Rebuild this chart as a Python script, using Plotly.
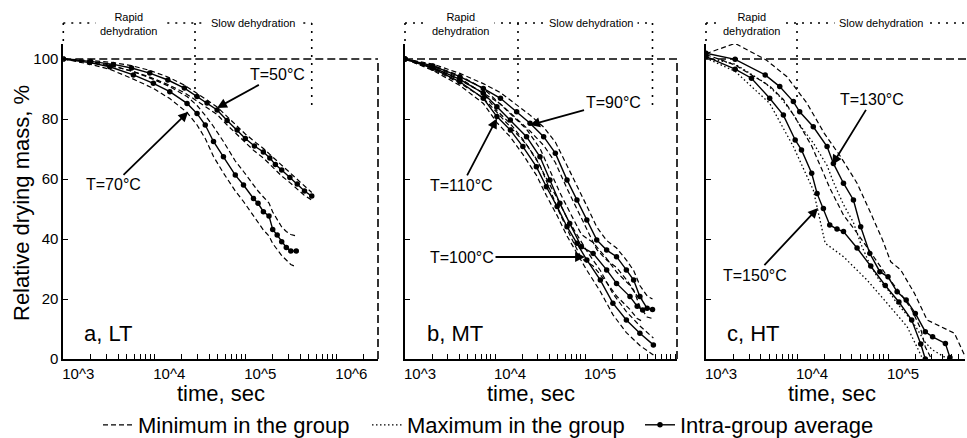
import math
import plotly.graph_objects as go

# ---------------- measurements: relative drying mass (%) vs time (s) ----------------
# Panel a, LT
t_50 = [1000, 2000, 3550, 5620, 8910, 14100, 21400, 29500, 38000, 49000, 63100, 81300,
        100000, 125900, 158000, 186000, 214000, 251000, 309000, 372000, 447000, 537000]
avg_50 = [100, 99.2, 98.2, 97.0, 95.3, 93.0, 90.3, 87.5, 85.3, 83.0, 79.5, 76.3,
          73.5, 71.0, 69.0, 67.0, 64.8, 63.0, 60.5, 58.3, 56.0, 54.3]
hi_50 = [100, 99.5, 98.8, 97.8, 96.2, 94.0, 91.3, 88.6, 86.3, 84.0, 80.8, 77.5,
         75.0, 72.5, 70.2, 68.2, 66.5, 64.5, 62.0, 59.8, 57.5, 55.5]
lo_50 = [100, 98.8, 97.5, 96.0, 94.0, 91.5, 88.8, 86.0, 83.8, 81.5, 78.0, 74.8,
         72.0, 69.3, 67.0, 65.0, 63.0, 61.0, 58.8, 56.7, 54.5, 53.0]

t_70 = [1000, 1950, 3240, 5890, 9770, 14800, 22900, 29500, 36300, 44700, 57500, 77600,
        95500, 123000, 138000, 158000, 182000, 200000, 224000, 251000, 282000, 316000, 363000]
avg_70 = [100, 98.8, 97.4, 94.7, 91.9, 89.1, 85.2, 81.8, 78.0, 72.5, 67.4, 61.3,
          58.0, 53.5, 51.9, 49.1, 47.7, 43.2, 41.3, 39.1, 37.2, 36.0, 36.0]
hi_70 = [100, 99.2, 98.0, 95.8, 93.2, 90.8, 87.5, 84.5, 81.2, 77.5, 72.5, 66.0,
         62.5, 58.0, 56.0, 54.0, 52.0, 49.0, 46.5, 44.0, 42.5, 41.5, 41.0]
lo_70 = [100, 98.3, 96.6, 93.3, 90.2, 86.8, 82.2, 78.0, 73.5, 67.5, 62.0, 56.0,
         52.5, 47.5, 45.5, 43.0, 41.0, 38.5, 36.5, 34.5, 33.0, 31.5, 30.7]

# Panel b, MT
t_90 = [1000, 2040, 4070, 7410, 11500, 17400, 24500, 34700, 46800, 63100, 81300, 104700,
        134900, 174000, 224000, 288000, 347000, 407000, 490000, 562000]
avg_90 = [100, 97.7, 94.1, 90.2, 86.9, 82.4, 78.6, 74.1, 68.6, 59.7, 53.0, 46.3,
          39.7, 36.3, 34.1, 29.7, 26.3, 20.8, 16.9, 16.5]
hi_90 = [100, 98.3, 95.2, 91.8, 88.8, 84.8, 81.3, 77.3, 72.3, 64.5, 58.0, 51.0,
         44.0, 39.5, 37.0, 33.0, 29.5, 24.5, 21.0, 20.0]
lo_90 = [100, 97.0, 93.0, 88.7, 85.0, 80.2, 76.0, 71.2, 65.5, 56.8, 50.0, 43.0,
         36.5, 33.0, 30.5, 26.5, 23.0, 17.5, 14.0, 13.5]

t_100 = [1000, 2040, 4070, 7410, 10500, 14800, 22400, 31600, 40700, 52500, 67600, 91200,
         123000, 174000, 224000, 316000, 380000, 437000]
avg_100 = [100, 97.2, 93.2, 88.6, 84.1, 79.7, 74.1, 67.4, 59.7, 51.9, 45.2, 37.4,
           35.2, 29.7, 25.2, 20.8, 17.6, 16.3]
hi_100 = [100, 97.9, 94.4, 90.2, 86.0, 81.8, 76.6, 70.2, 63.0, 55.5, 49.0, 41.5,
          38.8, 33.5, 29.0, 24.5, 21.0, 20.0]
lo_100 = [100, 96.5, 92.0, 87.0, 82.2, 77.5, 71.5, 64.5, 56.5, 48.5, 41.5, 33.5,
          31.0, 25.5, 21.0, 16.5, 13.5, 12.5]

t_110 = [1000, 2040, 4070, 7410, 10500, 14800, 20400, 28800, 37200, 49000, 63100, 81300,
         104700, 148000, 204000, 288000, 407000, 575000]
avg_110 = [100, 96.9, 92.4, 86.9, 80.8, 76.3, 70.8, 64.1, 57.4, 50.8, 44.1, 38.6,
           33.0, 26.3, 18.6, 13.0, 8.6, 4.7]
hi_110 = [100, 97.6, 93.6, 88.5, 82.8, 78.4, 73.2, 66.7, 60.2, 53.6, 47.0, 41.5,
          36.0, 29.5, 21.8, 15.8, 11.0, 7.0]
lo_110 = [100, 96.2, 91.2, 85.2, 78.8, 74.0, 68.2, 61.3, 54.5, 47.8, 41.0, 35.4,
          29.6, 22.5, 14.8, 8.8, 4.5, 1.3]

# Panel c, HT
t_130 = [1000, 2090, 4470, 6460, 9120, 10700, 15100, 21400, 25100, 32400, 41700, 50100,
         63100, 81300, 100000, 125900, 158500, 199500, 257000, 309000, 427000, 479000]
avg_130 = [101.9, 99.9, 94.7, 90.8, 85.8, 82.4, 77.4, 70.8, 65.2, 58.6, 53.0, 44.1,
           35.2, 29.1, 27.4, 22.4, 19.7, 15.2, 9.1, 7.4, 5.2, 0.5]
lo_130 = [100.5, 98.3, 92.0, 87.5, 81.5, 78.0, 72.0, 64.5, 59.0, 51.5, 45.5, 38.5,
          31.5, 26.0, 23.0, 18.5, 15.0, 11.0, 5.5, 3.0, 0.5, 0.0]
t_130_hi = [1000, 2090, 4570, 7760, 12900, 19950, 30200, 45700, 64600, 87100, 107200,
            138000, 195000, 269000, 380000, 537000, 724000]
hi_130 = [101.8, 105.2, 99.7, 94.1, 85.2, 75.2, 67.4, 58.6, 48.6, 39.7, 32.4,
          29.7, 21.9, 13.0, 10.8, 8.6, 0.0]

t_150 = [1000, 2090, 3160, 5010, 7080, 9550, 11200, 14500, 16600, 19500, 22900, 27500,
         32400, 45700, 64600, 93300, 131800, 182000, 229000, 257000]
avg_150 = [100.8, 96.6, 93.6, 86.9, 81.3, 73.0, 69.7, 61.9, 55.2, 50.2, 44.7, 43.3,
           42.5, 37.0, 31.0, 24.5, 19.0, 13.0, 5.0, 0.0]
t_150_lo = [1000, 2090, 5010, 9120, 15100, 20400, 32400, 58900, 97700, 162000, 234000]
lo_150 = [100.3, 95.9, 85.2, 70.8, 56.3, 38.6, 34.1, 26.3, 18.6, 10.8, 0.8]
t_150_hi = [1000, 2090, 5010, 7080, 9550, 14500, 19500, 22900, 32400, 45700, 64600,
            93300, 131800, 182000, 229000, 257000, 300000]
hi_150 = [101.5, 98.0, 91.0, 86.5, 80.5, 71.0, 62.0, 57.0, 48.0, 42.0, 35.5,
          28.5, 22.5, 16.5, 10.0, 4.0, 0.0]

# phase boundaries (s): end of rapid dehydration, end of the slow-phase bracket
phase_split = {"a": 28000, "b": 18000, "c": 10000}
phase_end = {"a": t_50[-1], "b": t_90[-1], "c": None}

# ---------------- layout geometry ----------------
W, H = 967, 438
FONT = "Liberation Sans, Arial, sans-serif"
PANEL_PX = {"a": (63.3, 378.0), "b": (405.0, 677.0), "c": (706.0, 965.0)}
Y_TOP, Y_BOT = 44.0, 359.0
XRANGE = {"a": [3, 6.458], "b": [3, 6.022], "c": [3, 5.846]}
YMAX = 105
AX = {"a": ("x", "y", "xaxis", "yaxis"), "b": ("x2", "y2", "xaxis2", "yaxis2"),
      "c": ("x3", "y3", "xaxis3", "yaxis3")}
LEGEND_X = {"min": 98, "max": 367, "avg": 640}   # left edge of each legend entry, px
LEGEND_Y = 425

dom_y = [1 - Y_BOT / H, 1 - Y_TOP / H]


def xfrac(panel, t):
    lo, hi = XRANGE[panel]
    return (math.log10(t) - lo) / (hi - lo)


def ypaper(v):
    return dom_y[0] + v / YMAX * (dom_y[1] - dom_y[0])


DASH = "5px,3px"
DOT = "1.5px,2.5px"

fig = go.Figure()

legend_done = set()
LEGEND_ID = {"min": "legend", "max": "legend2", "avg": "legend3"}


def add_line(panel, t, v, kind):
    xa, ya = AX[panel][0], AX[panel][1]
    if kind == "avg":
        name, group = "Intra-group average", "avg"
        line = dict(color="black", width=1.4)
        mode = "lines+markers"
        marker = dict(size=5.5, color="black")
    elif kind == "dash":
        name, group = "Minimum in the group", "min"
        line = dict(color="black", width=1.2, dash=DASH)
        mode, marker = "lines", None
    else:
        name, group = "Maximum in the group", "max"
        line = dict(color="black", width=1.3, dash=DOT)
        mode, marker = "lines", None
    show = group not in legend_done
    legend_done.add(group)
    fig.add_trace(go.Scatter(x=t, y=v, mode=mode, line=line, marker=marker,
                             name=name, legendgroup=group, showlegend=show,
                             legend=LEGEND_ID[group], xaxis=xa, yaxis=ya,
                             hoverinfo="skip"))


# panel a
add_line("a", t_50, hi_50, "dash")
add_line("a", t_50, lo_50, "dash")
add_line("a", t_70, hi_70, "dash")
add_line("a", t_70, lo_70, "dash")
add_line("a", t_50, avg_50, "avg")
add_line("a", t_70, avg_70, "avg")
# panel b
for t, a, h, l in [(t_90, avg_90, hi_90, lo_90), (t_100, avg_100, hi_100, lo_100),
                   (t_110, avg_110, hi_110, lo_110)]:
    add_line("b", t, h, "dash")
    add_line("b", t, l, "dash")
for t, a in [(t_90, avg_90), (t_100, avg_100), (t_110, avg_110)]:
    add_line("b", t, a, "avg")
# panel c
add_line("c", t_150_lo, lo_150, "dot")
add_line("c", t_150_hi, hi_150, "dash")
add_line("c", t_130, lo_130, "dot")
add_line("c", t_130_hi, hi_130, "dash")
add_line("c", t_150, avg_150, "avg")
add_line("c", t_130, avg_130, "avg")

# ---------------- axes ----------------
layout_axes = {}
for p in "abc":
    xa, ya, xkey, ykey = AX[p]
    lo, hi = XRANGE[p]
    vals, text = [], []
    for d in range(3, 7):
        for m in range(1, 10):
            val = m * 10 ** d
            if math.log10(val) <= hi + 1e-9:
                vals.append(val)
                # decade labels only where there is room for them inside the panel
                text.append(f"10^{d}" if (m == 1 and d < hi - 0.15) else "")
    l, r = PANEL_PX[p]
    layout_axes[xkey] = dict(
        type="log", range=[lo, hi], domain=[l / W, r / W], anchor=ya,
        showline=True, linecolor="black", linewidth=1.8, mirror=False,
        ticks="inside", ticklen=5, tickwidth=1.2, tickcolor="black",
        tickvals=vals, ticktext=text, ticklabelshift=15,
        tickfont=dict(size=15, color="black", family=FONT),
        showgrid=False, zeroline=False, fixedrange=True, automargin=False)
    if p == "a":
        yt = dict(tickvals=[0, 20, 40, 60, 80, 100], showticklabels=True)
    else:
        yt = dict(tickvals=[20, 40, 60, 80, 105], showticklabels=False)
    layout_axes[ykey] = dict(
        range=[0, YMAX], domain=dom_y, anchor=xa,
        showline=True, linecolor="black", linewidth=1.8,
        ticks="inside", ticklen=5, tickwidth=1.2, tickcolor="black",
        tickfont=dict(size=15, color="black", family=FONT),
        showgrid=False, zeroline=False, fixedrange=True, automargin=False, **yt)

# ---------------- reference lines and phase brackets ----------------
shapes = []
BRACKET_Y = 1 - 23 / H
dash_long = dict(color="black", width=1.6, dash="8px,4px")
dot_line = dict(color="black", width=1.6, dash="2px,6px")
mid_bottom = {"a": 87, "b": 85.3, "c": 86.3}
end_bottom = {"a": 84, "b": 83.7}
annotations = []

for p in "abc":
    xa, ya = AX[p][0], AX[p][1]
    right = 1.0 if p != "c" else (W - PANEL_PX["c"][0]) / (PANEL_PX["c"][1] - PANEL_PX["c"][0])
    shapes.append(dict(type="line", xref=f"{xa} domain", yref=ya, x0=0, x1=right,
                       y0=100, y1=100, line=dash_long))
    if p != "c":
        shapes.append(dict(type="line", xref=f"{xa} domain", yref=ya, x0=1, x1=1,
                           y0=0, y1=100, line=dash_long))
    xs = xfrac(p, phase_split[p])
    xe = xfrac(p, phase_end[p]) if phase_end[p] else right
    shapes.append(dict(type="line", xref=f"{xa} domain", yref="paper", x0=0, x1=xe,
                       y0=BRACKET_Y, y1=BRACKET_Y, line=dot_line))
    shapes.append(dict(type="line", xref=f"{xa} domain", yref="paper", x0=0, x1=0,
                       y0=BRACKET_Y, y1=dom_y[1], line=dot_line))
    shapes.append(dict(type="line", xref=f"{xa} domain", yref="paper", x0=xs, x1=xs,
                       y0=BRACKET_Y, y1=ypaper(mid_bottom[p]), line=dot_line))
    if p != "c":
        shapes.append(dict(type="line", xref=f"{xa} domain", yref="paper", x0=xe, x1=xe,
                           y0=BRACKET_Y, y1=ypaper(end_bottom[p]), line=dot_line))
    slow_end = xe if p != "c" else xfrac(p, 10 ** XRANGE[p][1])
    annotations.append(dict(text="Rapid<br>dehydration", xref=f"{xa} domain", yref="paper",
                            x=xs / 2, y=BRACKET_Y - 0.002, showarrow=False,
                            font=dict(size=11, color="black", family=FONT),
                            bgcolor="white", borderpad=4, xanchor="center", yanchor="middle"))
    annotations.append(dict(text="Slow dehydration", xref=f"{xa} domain", yref="paper",
                            x=(xs + slow_end) / 2 + (0.02 if p == "b" else 0), y=BRACKET_Y,
                            showarrow=False, font=dict(size=11, color="black", family=FONT),
                            bgcolor="white", borderpad=4, xanchor="center", yanchor="middle"))

# ---------------- temperature labels ----------------
labels = [("a", "T=50°C", 48900, 83.7, 60, -33),
          ("a", "T=70°C", 23600, 82.4, -75, 73),
          ("b", "T=90°C", 24500, 78.0, 83, -23),
          ("b", "T=110°C", 10500, 80.2, -35, 67),
          ("b", "T=100°C", 100000, 34.0, -123, 0),
          ("c", "T=130°C", 24300, 64.7, 40, -65),
          ("c", "T=150°C", 17000, 50.3, -63, 67)]
for p, txt, t, v, dx, dy in labels:
    xa, ya = AX[p][0], AX[p][1]
    annotations.append(dict(text=txt, xref=xa, yref=ya, x=math.log10(t), y=v,
                            ax=dx, ay=dy, showarrow=True, arrowhead=2, arrowsize=1.1,
                            arrowwidth=1.8, arrowcolor="black", standoff=0,
                            font=dict(size=16, color="black", family=FONT)))

# panel tags and axis titles
for p, tag, fx in [("a", "a, LT", 0.059), ("b", "b, MT", 0.0735), ("c", "c, HT", 0.0734)]:
    annotations.append(dict(text=tag, xref=f"{AX[p][0]} domain", yref="paper", x=fx,
                            y=1 - 333 / H, showarrow=False, xanchor="left", yanchor="middle",
                            font=dict(size=22, color="black", family=FONT)))
for cx in [221, 531, 832]:
    annotations.append(dict(text="time, sec", xref="paper", yref="paper", x=cx / W,
                            y=1 - 393 / H, showarrow=False, xanchor="center", yanchor="middle",
                            font=dict(size=22, color="black", family=FONT)))
annotations.append(dict(text="Relative drying mass, %", xref="paper", yref="paper",
                        x=21 / W, y=1 - 203 / H, textangle=-90, showarrow=False,
                        xanchor="center", yanchor="middle",
                        font=dict(size=22, color="black", family=FONT)))


def legend_box(px):
    return dict(orientation="h", xref="container", yref="container",
                x=px / W, xanchor="left", y=1 - LEGEND_Y / H, yanchor="middle",
                font=dict(size=22, color="black", family=FONT),
                bgcolor="rgba(0,0,0,0)", borderwidth=0, itemwidth=30)


fig.update_layout(
    width=W, height=H, margin=dict(l=0, r=0, t=0, b=0, autoexpand=False),
    paper_bgcolor="white", plot_bgcolor="white",
    font=dict(family=FONT, color="black"),
    shapes=shapes, annotations=annotations,
    showlegend=True,
    legend=legend_box(LEGEND_X["min"]),
    legend2=legend_box(LEGEND_X["max"]),
    legend3=legend_box(LEGEND_X["avg"]),
    **layout_axes,
)

fig.write_html("out.html")
